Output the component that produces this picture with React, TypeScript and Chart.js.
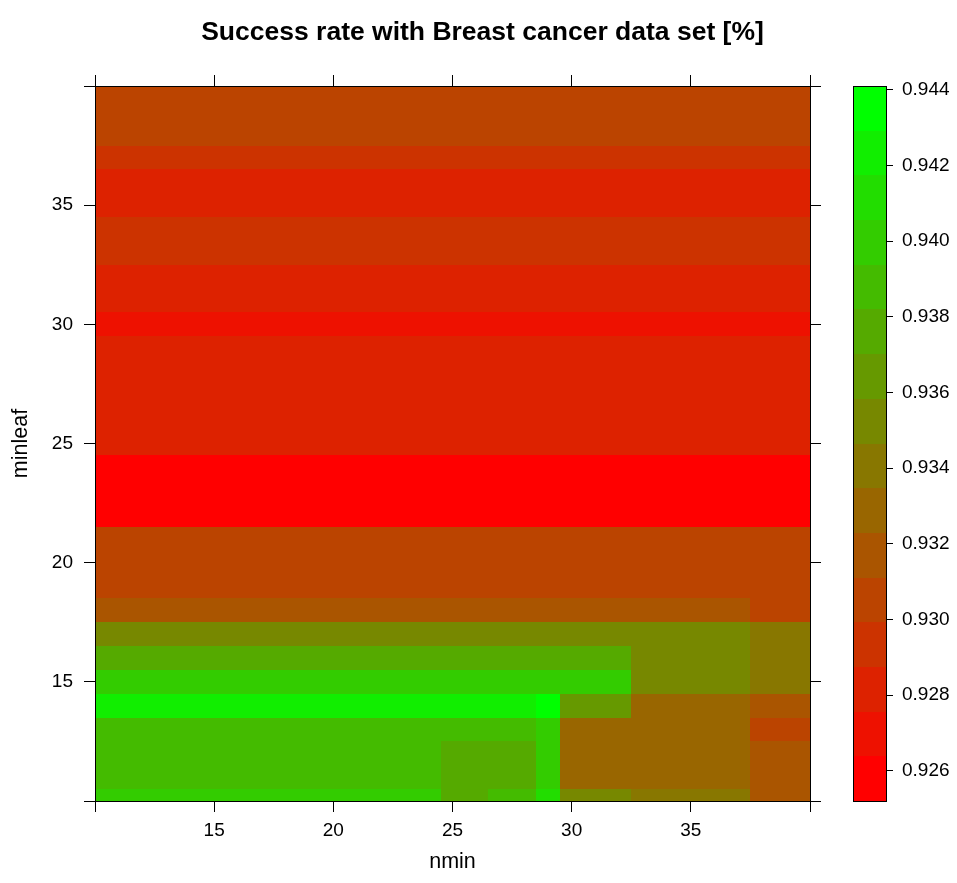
import React, { useEffect, useRef } from "react";
import { Chart, registerables } from "chart.js";

Chart.register(...registerables);

const TITLE = "Success rate with Breast cancer data set [%]";
const X_TITLE = "nmin";
const Y_TITLE = "minleaf";

// cell boundaries (data units) of the level plot
const nminEdges = [10, 24.5, 26.5, 28.5, 29.5, 32.5, 37.5, 40];
const minleafEdges = [
  10, 10.5, 12.5, 13.5, 14.5, 15.5, 16.5, 17.5, 18.5, 21.5, 24.5, 29.5, 30.5,
  32.5, 34.5, 36.5, 37.5, 40,
];

// success rate per cell: rows = minleaf bands (bottom -> top), columns = nmin bands (left -> right)
const successRate: number[][] = [
  [0.94, 0.9376, 0.9388, 0.9411, 0.9352, 0.9341, 0.9317],
  [0.9388, 0.9376, 0.9376, 0.94, 0.9329, 0.9329, 0.9317],
  [0.9388, 0.9388, 0.9388, 0.94, 0.9329, 0.9329, 0.9305],
  [0.9423, 0.9423, 0.9423, 0.9441, 0.9364, 0.9329, 0.9317],
  [0.94, 0.94, 0.94, 0.94, 0.94, 0.9352, 0.9341],
  [0.9376, 0.9376, 0.9376, 0.9376, 0.9376, 0.9352, 0.9341],
  [0.9352, 0.9352, 0.9352, 0.9352, 0.9352, 0.9352, 0.9341],
  [0.9317, 0.9317, 0.9317, 0.9317, 0.9317, 0.9317, 0.9305],
  [0.9305, 0.9305, 0.9305, 0.9305, 0.9305, 0.9305, 0.9305],
  [0.9252, 0.9252, 0.9252, 0.9252, 0.9252, 0.9252, 0.9252],
  [0.9282, 0.9282, 0.9282, 0.9282, 0.9282, 0.9282, 0.9282],
  [0.927, 0.927, 0.927, 0.927, 0.927, 0.927, 0.927],
  [0.9282, 0.9282, 0.9282, 0.9282, 0.9282, 0.9282, 0.9282],
  [0.9293, 0.9293, 0.9293, 0.9293, 0.9293, 0.9293, 0.9293],
  [0.9282, 0.9282, 0.9282, 0.9282, 0.9282, 0.9282, 0.9282],
  [0.9293, 0.9293, 0.9293, 0.9293, 0.9293, 0.9293, 0.9293],
  [0.9305, 0.9305, 0.9305, 0.9305, 0.9305, 0.9305, 0.9305],
];

const axisTicks = [10, 15, 20, 25, 30, 35, 40];
const axisTickLabels = ["", "15", "20", "25", "30", "35", ""];
const colorTicks = [0.926, 0.928, 0.93, 0.932, 0.934, 0.936, 0.938, 0.94, 0.942, 0.944];
const COLOR_CUTS = 16;

const FONT = "'Liberation Sans', Arial, Helvetica, sans-serif";

const allValues = successRate.flat();
const zMin = Math.min(...allValues);
const zMax = Math.max(...allValues);

function binColor(i: number): string {
  const t = i / (COLOR_CUTS - 1);
  return `rgb(${Math.round(255 * (1 - t))}, ${Math.round(255 * t)}, 0)`;
}

function colorFor(v: number): string {
  let i = Math.floor(((v - zMin) / (zMax - zMin)) * COLOR_CUTS);
  if (i >= COLOR_CUTS) i = COLOR_CUTS - 1;
  if (i < 0) i = 0;
  return binColor(i);
}

const levelPlugin = {
  id: "levelPlot",
  beforeDraw(chart: any) {
    const { ctx } = chart;
    const xs = chart.scales.x;
    const ys = chart.scales.y;
    const cs = chart.scales.yc;
    ctx.save();
    for (let r = 0; r < successRate.length; r++) {
      const yBottom = Math.round(ys.getPixelForValue(minleafEdges[r]));
      const yTop = Math.round(ys.getPixelForValue(minleafEdges[r + 1]));
      for (let c = 0; c < successRate[r].length; c++) {
        const xLeft = Math.round(xs.getPixelForValue(nminEdges[c]));
        const xRight = Math.round(xs.getPixelForValue(nminEdges[c + 1]));
        ctx.fillStyle = colorFor(successRate[r][c]);
        ctx.fillRect(xLeft, yTop, xRight - xLeft, yBottom - yTop);
      }
    }
    // colour key
    const right = Math.round(cs.left);
    const left = right - 33;
    const step = (zMax - zMin) / COLOR_CUTS;
    for (let i = 0; i < COLOR_CUTS; i++) {
      const y0 = Math.round(cs.getPixelForValue(zMin + i * step));
      const y1 = Math.round(cs.getPixelForValue(zMin + (i + 1) * step));
      ctx.fillStyle = binColor(i);
      ctx.fillRect(left, y1, right - left, y0 - y1);
    }
    const top = Math.round(cs.getPixelForValue(zMax));
    const bottom = Math.round(cs.getPixelForValue(zMin));
    ctx.strokeStyle = "#000";
    ctx.lineWidth = 1;
    ctx.strokeRect(left + 0.5, top + 0.5, right - left, bottom - top);
    ctx.restore();
  },
};

const tickFont = { family: FONT, size: 19 };
const gridOpts = (len: number) => ({
  drawOnChartArea: false,
  drawTicks: true,
  tickLength: len,
  color: "#000",
  lineWidth: 1,
});
const borderOpts = { display: true, color: "#000", width: 1 };
const setAxisTicks = (s: any) => {
  s.ticks = axisTicks.map((v) => ({ value: v }));
};
const axisLabel = (v: any) => {
  const i = axisTicks.indexOf(Number(v));
  return i >= 0 ? axisTickLabels[i] : "";
};

export default function App() {
  const canvasRef = useRef<HTMLCanvasElement | null>(null);

  useEffect(() => {
    if (!canvasRef.current) return;
    const chart = new Chart(canvasRef.current, {
      type: "scatter",
      data: { datasets: [] },
      plugins: [levelPlugin],
      options: {
        responsive: false,
        animation: false,
        devicePixelRatio: 1,
        events: [],
        layout: { padding: { left: 8, right: 0, top: 0, bottom: 0 } },
        plugins: {
          legend: { display: false },
          tooltip: { enabled: false },
          title: {
            display: true,
            text: TITLE,
            color: "#000",
            font: { family: FONT, size: 26.5, weight: "bold", lineHeight: 1.2 },
            padding: { top: 17.1, bottom: 10 },
          },
        },
        scales: {
          x: {
            type: "linear",
            position: "bottom",
            min: 10,
            max: 40,
            afterBuildTicks: setAxisTicks,
            afterFit: (s: any) => {
              s.height = 82;
            },
            ticks: {
              autoSkip: false,
              maxRotation: 0,
              padding: 7,
              color: "#000",
              font: tickFont,
              callback: axisLabel,
            },
            grid: gridOpts(11),
            border: borderOpts,
            title: {
              display: true,
              text: X_TITLE,
              color: "#000",
              font: { family: FONT, size: 21.5 },
              padding: { top: 0, bottom: 8 },
            },
          },
          x2: {
            type: "linear",
            position: "top",
            min: 10,
            max: 40,
            afterBuildTicks: setAxisTicks,
            afterFit: (s: any) => {
              s.height = 27.1;
            },
            ticks: { display: false },
            grid: gridOpts(11),
            border: borderOpts,
          },
          y: {
            type: "linear",
            position: "left",
            min: 10,
            max: 40,
            afterBuildTicks: setAxisTicks,
            afterFit: (s: any) => {
              s.width = 87;
            },
            ticks: {
              autoSkip: false,
              padding: 11,
              color: "#000",
              font: tickFont,
              callback: axisLabel,
            },
            grid: gridOpts(11),
            border: borderOpts,
            title: {
              display: true,
              text: Y_TITLE,
              color: "#000",
              font: { family: FONT, size: 21.5 },
              padding: { top: 0, bottom: 0 },
            },
          },
          y2: {
            type: "linear",
            position: "right",
            weight: 0,
            min: 10,
            max: 40,
            afterBuildTicks: setAxisTicks,
            afterFit: (s: any) => {
              s.width = 76;
            },
            ticks: { display: false },
            grid: gridOpts(11),
            border: borderOpts,
          },
          yc: {
            type: "linear",
            position: "right",
            weight: 1,
            min: zMin,
            max: zMax,
            afterBuildTicks: (s: any) => {
              s.ticks = colorTicks.map((v) => ({ value: v }));
            },
            afterFit: (s: any) => {
              s.width = 71;
            },
            ticks: {
              autoSkip: false,
              padding: 9,
              color: "#000",
              font: tickFont,
              callback: (v: any) => Number(v).toFixed(3),
            },
            grid: gridOpts(7),
            border: borderOpts,
          },
        },
      } as any,
    });
    return () => chart.destroy();
  }, []);

  return (
    <div style={{ position: "absolute", left: 0, top: 0, width: 957, height: 883, background: "#fff" }}>
      <canvas ref={canvasRef} width={957} height={883} />
    </div>
  );
}
